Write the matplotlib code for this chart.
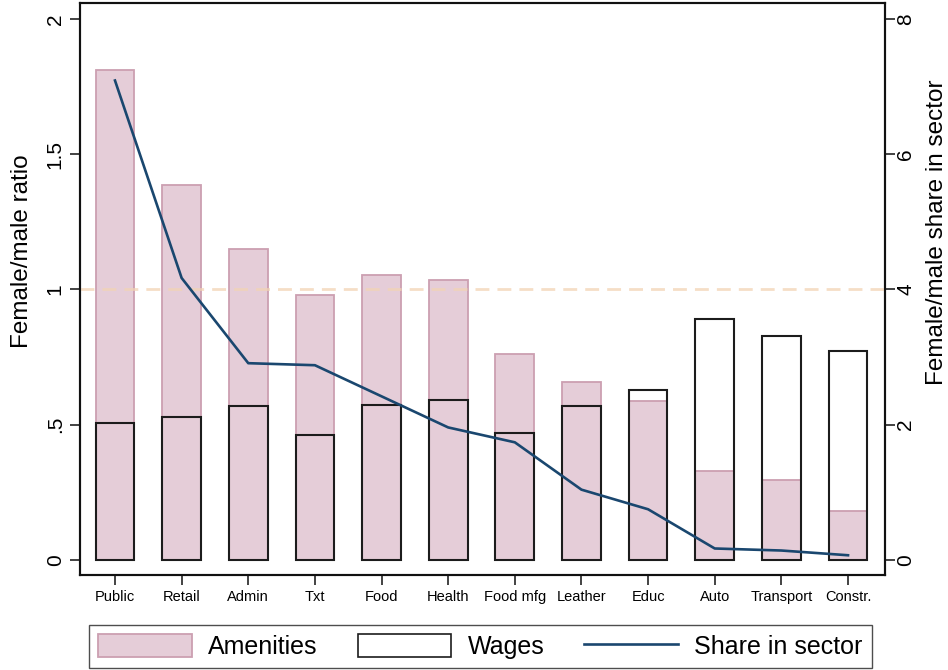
import matplotlib
matplotlib.use("Agg")
import matplotlib.pyplot as plt
from matplotlib.patches import Patch
from matplotlib.lines import Line2D
import numpy as np

plt.rcParams['font.family'] = ['Liberation Sans', 'DejaVu Sans']

sectors = ["Public", "Retail", "Admin", "Txt", "Food", "Health", "Food mfg",
           "Leather", "Educ", "Auto", "Transport", "Constr."]
amenities = [1.81, 1.387, 1.149, 0.98, 1.054, 1.034, 0.76, 0.659, 0.589, 0.328, 0.295, 0.182]
wages = [0.508, 0.529, 0.568, 0.463, 0.574, 0.593, 0.469, 0.571, 0.630, 0.891, 0.829, 0.774]
share = [7.09, 4.17, 2.91, 2.88, 2.42, 1.96, 1.74, 1.04, 0.75, 0.17, 0.14, 0.07]

left_ticks = [0, 0.5, 1, 1.5, 2]
left_labels = ["0", ".5", "1", "1.5", "2"]
right_ticks = [0, 2, 4, 6, 8]

amen_fill = "#e5cdd8"
amen_edge = "#cc9fb1"
line_col = "#1a476f"
ref_col = "#f2d3b4"

fig = plt.figure(figsize=(9.48, 6.70), dpi=100)
ax = fig.add_axes([80 / 948, 1 - 575 / 670, 805 / 948, 572 / 670])

x = np.arange(1, len(sectors) + 1)
w = 0.58

# wages: white body underneath, outline drawn again on top of amenities
ax.bar(x, wages, width=w, color="white", edgecolor="none", zorder=1)
ax.bar(x, amenities, width=w, color=amen_fill, edgecolor=amen_edge, linewidth=1.3, zorder=2)
ax.bar(x, wages, width=w, fill=False, edgecolor="#1c1c1c", linewidth=1.5, zorder=3)

ax.axhline(1, color=ref_col, lw=2.0, dashes=(5, 2.9), alpha=0.75, zorder=4)

ylo, yhi = -0.0555, 2.059
ax.set_ylim(ylo, yhi)
ax.set_xlim(0.475, 12.555)
ax.set_xticks(x)
ax.set_xticklabels(sectors, fontsize=10.5)
ax.set_yticks(left_ticks)
ax.set_yticklabels(left_labels, fontsize=15, rotation=90, va="center")
ax.tick_params(axis="both", direction="out", length=7, width=1.2, color="#222222")
ax.tick_params(axis="x", pad=4)
ax.tick_params(axis="y", pad=4)

ax2 = ax.twinx()
ax2.plot(x, share, color=line_col, lw=1.9, zorder=5)
ax2.set_ylim(4 * ylo, 4 * yhi)
ax2.set_yticks(right_ticks)
ax2.set_yticklabels([str(t) for t in right_ticks], fontsize=15, rotation=90, va="center")
ax2.tick_params(axis="y", direction="out", length=7, width=1.2, color="#222222", pad=1)

ax.set_ylabel("Female/male ratio", fontsize=17.5)
ax.yaxis.set_label_coords(-0.072, 0.566)
ax.yaxis.label.set_verticalalignment("center")
ax2.set_ylabel("Female/male share in sector", fontsize=17.5)
ax2.yaxis.set_label_coords(1.0646, 0.600)
ax2.yaxis.label.set_verticalalignment("center")

for a in (ax, ax2):
    for s in a.spines.values():
        s.set_linewidth(1.5)
        s.set_color("#111111")

handles = [
    Patch(facecolor=amen_fill, edgecolor=amen_edge, linewidth=1.3),
    Patch(facecolor="white", edgecolor="#1c1c1c", linewidth=1.2),
    Line2D([0], [0], color=line_col, lw=1.9),
]
leg = fig.legend(handles, ["Amenities", "Wages", "Share in sector"], ncol=3,
                 loc="center", bbox_to_anchor=(480.5 / 948, 1 - 646.5 / 670),
                 fontsize=18, frameon=True, fancybox=False, edgecolor="#222222",
                 handlelength=3.75, handleheight=1.0, handletextpad=0.65,
                 columnspacing=1.6, borderpad=0.38, borderaxespad=0)
leg.get_frame().set_linewidth(1.0)

fig.savefig("out.png", dpi=100)
